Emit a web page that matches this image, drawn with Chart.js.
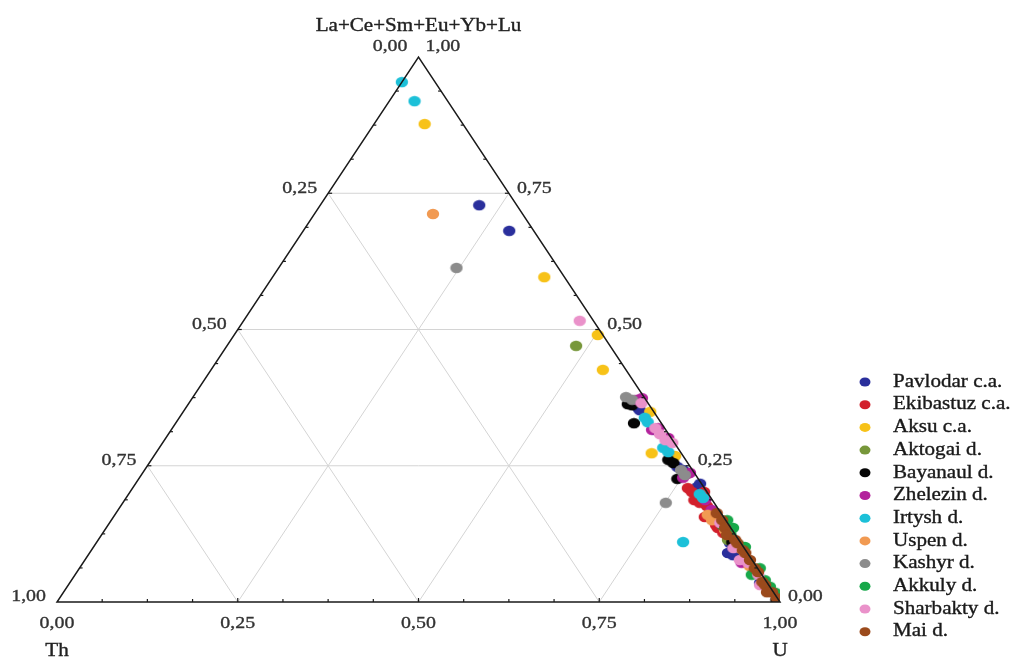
<!DOCTYPE html>
<html><head><meta charset="utf-8">
<script src="https://cdn.jsdelivr.net/npm/chart.js@4.4.0/dist/chart.umd.min.js"></script>
<style>html,body{margin:0;padding:0;background:#fff;overflow:hidden}#wrap{width:1011px;height:658px;position:relative}</style>
</head><body><div id="wrap"><canvas id="c" width="1011" height="658"></canvas></div>
<script>
// ---- data: each point is [U, La+Ce+Sm+Eu+Yb+Lu]; Th = 1 - U - REE ----
const seriesNames = ['Pavlodar c.a.','Ekibastuz c.a.','Aksu c.a.','Aktogai d.','Bayanaul d.','Zhelezin d.','Irtysh d.','Uspen d.','Kashyr d.','Akkuly d.','Sharbakty d.','Mai d.'];
const seriesColors = ['#2a2f9c','#d2202c','#f7c218','#77973a','#050505','#b3229c','#1cc0d8','#f19a52','#8c8c8c','#17a84a','#ea92ca','#9b4a1c'];
const pavlodar  = [[0.220,0.728],[0.285,0.681],[0.626,0.356],[0.630,0.352],[0.669,0.316],[0.734,0.248],[0.745,0.242],[0.780,0.211],[0.781,0.217],[0.877,0.108],[0.888,0.099],[0.883,0.090],[0.892,0.086],[0.955,0.035]];
const ekibastuz = [[0.768,0.209],[0.777,0.202],[0.788,0.187],[0.798,0.182],[0.811,0.176],[0.824,0.165],[0.818,0.156],[0.846,0.136],[0.841,0.141],[0.858,0.127],[0.794,0.202],[0.913,0.077],[0.827,0.160]];
const aksu      = [[0.070,0.877],[0.376,0.596],[0.503,0.490],[0.542,0.426],[0.686,0.273],[0.721,0.268],[0.646,0.349]];
const aktogai   = [[0.483,0.470],[0.871,0.114]];
const bayanaul  = [[0.608,0.363],[0.615,0.361],[0.634,0.328],[0.715,0.261],[0.725,0.255],[0.745,0.226],[0.879,0.110],[0.993,0.004],[0.996,0.002]];
const zhelezin  = [[0.617,0.371],[0.622,0.374],[0.672,0.319],[0.695,0.301],[0.752,0.228],[0.757,0.237],[0.754,0.235],[0.803,0.187],[0.821,0.169],[0.665,0.316],[0.911,0.072]];
const irtysh    = [[0.000,0.954],[0.035,0.919],[0.644,0.338],[0.652,0.330],[0.697,0.283],[0.708,0.275],[0.790,0.198],[0.798,0.191],[0.811,0.110]];
const uspen     = [[0.164,0.712],[0.820,0.160],[0.831,0.150],[0.858,0.132],[0.895,0.099],[0.925,0.066]];
const kashyr    = [[0.246,0.613],[0.599,0.376],[0.610,0.371],[0.751,0.182],[0.742,0.242],[0.752,0.233]];
const akkuly    = [[0.850,0.141],[0.852,0.150],[0.867,0.136],[0.870,0.123],[0.901,0.101],[0.936,0.050],[0.941,0.062],[0.959,0.040],[0.972,0.028],[0.985,0.017],[0.890,0.105]];
const sharbakty = [[0.465,0.516],[0.626,0.365],[0.668,0.319],[0.680,0.308],[0.693,0.297],[0.705,0.292],[0.845,0.145],[0.886,0.099],[0.906,0.077],[0.920,0.072],[0.945,0.050],[0.957,0.031]];
const mai       = [[0.831,0.163],[0.845,0.150],[0.856,0.136],[0.865,0.123],[0.881,0.114],[0.887,0.108],[0.901,0.095],[0.907,0.090],[0.920,0.077],[0.934,0.062],[0.942,0.055],[0.957,0.037],[0.964,0.031],[0.973,0.018],[0.980,0.018],[0.992,0.007]];
const seriesData = [pavlodar,ekibastuz,aksu,aktogai,bayanaul,zhelezin,irtysh,uspen,kashyr,akkuly,sharbakty,mai];
const tickValues = [0,0.25,0.5,0.75,1];
const tickLabels = ['0,00','0,25','0,50','0,75','1,00'];
const topTitle = 'La+Ce+Sm+Eu+Yb+Lu', leftTitle = 'Th', rightTitle = 'U';

const SX = 1.17; // horizontal stretch of the original picture
const FONT = '"Liberation Serif","Times New Roman",serif';

function makeDot(color){
  const c = document.createElement('canvas'); c.width = 14; c.height = 12;
  const g = c.getContext('2d'); g.fillStyle = color;
  g.beginPath(); g.ellipse(7,6,6.2,5.2,0,0,Math.PI*2); g.fill();
  return c;
}

function toXY(p){ return {x: p[0] + p[1]/2, y: p[1]}; }

const datasets = seriesNames.map((n,i)=>({
  label: n,
  data: seriesData[i].map(toXY),
  backgroundColor: seriesColors[i],
  borderColor: seriesColors[i],
  pointStyle: makeDot(seriesColors[i]),
  pointRadius: 6,
  borderWidth: 0,
  order: seriesNames.length - i
}));

function txt(ctx, s, x, y, align, size, color){
  ctx.save();
  ctx.translate(x,y); ctx.scale(SX,1);
  ctx.font = size + 'px ' + FONT;
  ctx.fillStyle = color; ctx.textAlign = align; ctx.textBaseline = 'middle';
  ctx.fillText(s,0,0);
  ctx.strokeStyle = color; ctx.lineWidth = 0.35; ctx.strokeText(s,0,0);
  ctx.restore();
}

const ternary = {
  id: 'ternary',
  beforeDatasetsDraw(chart){
    const ctx = chart.ctx, xs = chart.scales.x, ys = chart.scales.y;
    const P = (u,r)=>({x: xs.getPixelForValue(u + r/2), y: ys.getPixelForValue(r)});
    const line = (a,b)=>{ctx.beginPath();ctx.moveTo(a.x,a.y);ctx.lineTo(b.x,b.y);ctx.stroke();};
    ctx.save();
    ctx.strokeStyle = '#d4d4d4'; ctx.lineWidth = 1;
    [0.25,0.5,0.75].forEach(v=>{
      line(P(0,v),P(1-v,v));
      line(P(v,0),P(v,1-v));
      line(P(1-v,0),P(0,1-v));
    });
    ctx.restore();
  },
  afterDatasetsDraw(chart){
    const ctx = chart.ctx, xs = chart.scales.x, ys = chart.scales.y;
    const P = (u,r)=>({x: xs.getPixelForValue(u + r/2), y: ys.getPixelForValue(r)});
    const line = (a,b)=>{ctx.beginPath();ctx.moveTo(a.x,a.y);ctx.lineTo(b.x,b.y);ctx.stroke();};
    ctx.save();
    ctx.strokeStyle = '#1a1a1a'; ctx.lineWidth = 1.5;
    const A = P(0,0), B = P(1,0), C = P(0,1);
    ctx.beginPath(); ctx.moveTo(A.x,A.y); ctx.lineTo(B.x,B.y); ctx.lineTo(C.x,C.y); ctx.closePath(); ctx.stroke();
    // ticks every 1/16
    ctx.lineWidth = 1.2;
    for(let k=1;k<16;k++){
      const f = k/16, len = (k%4===0)?4:3;
      const b = P(f,0); line(b,{x:b.x,y:b.y-len});
      const l = P(0,f); line(l,{x:l.x+len,y:l.y});
      const r = P(1-f,f); line(r,{x:r.x-len,y:r.y});
    }
    ctx.restore();
    // tick labels
    tickValues.forEach((v,i)=>{
      const l = P(0,v);
      txt(ctx, tickLabels[tickValues.length-1-i], l.x-11, l.y-(v===1?10:5), 'right', 17, '#333333');
      const r = P(1-v,v);
      txt(ctx, tickLabels[i], r.x+(v===1?7:8), r.y-(v===1?10:5), 'left', 17, '#333333');
      const b = P(v,0);
      txt(ctx, tickLabels[i], b.x, b.y+22, 'center', 17, '#333333');
    });
    txt(ctx, leftTitle, A.x, A.y+49, 'center', 18, '#222222');
    txt(ctx, rightTitle, B.x, B.y+49, 'center', 18, '#222222');
    txt(ctx, topTitle, C.x, C.y-31, 'center', 18, '#222222');
    // legend
    chart.data.datasets.forEach((ds,i)=>{
      const y = 382 + i*22.7;
      ctx.save(); ctx.fillStyle = ds.backgroundColor;
      ctx.beginPath(); ctx.ellipse(865,y,5.5,4.5,0,0,Math.PI*2); ctx.fill(); ctx.restore();
      txt(ctx, ds.label, 893, y, 'left', 18, '#1a1a1a');
    });
  }
};

new Chart(document.getElementById('c'), {
  type: 'scatter',
  data: {datasets},
  options: {
    responsive: false, animation: false, devicePixelRatio: 1,
    layout: {padding: {left:57, right:231, top:57, bottom:56}},
    scales: {
      x: {type:'linear', min:0, max:1, display:false},
      y: {type:'linear', min:0, max:1, display:false}
    },
    plugins: {legend:{display:false}, tooltip:{enabled:false}}
  },
  plugins: [ternary]
});
</script></body></html>
